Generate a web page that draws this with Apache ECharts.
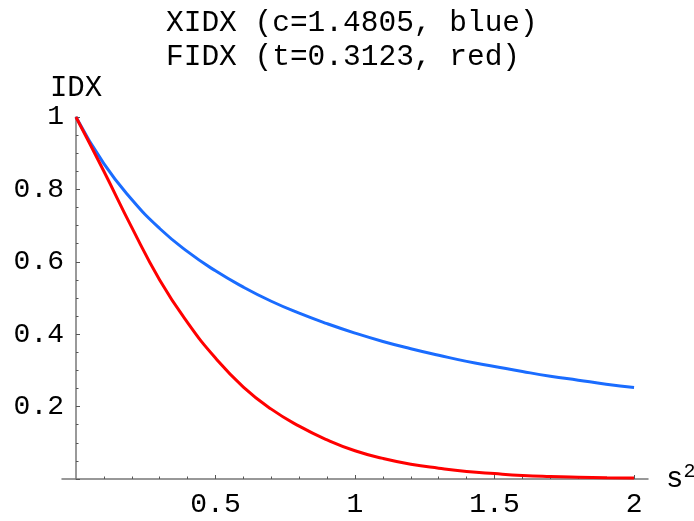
<!DOCTYPE html>
<html>
<head>
<meta charset="utf-8">
<script src="https://cdn.jsdelivr.net/npm/echarts@6/dist/echarts.min.js"></script>
<style>
  html, body { margin: 0; padding: 0; background: #fff; }
  #chart { width: 694px; height: 521px; }
</style>
</head>
<body>
<div id="chart"></div>
<script>
// s^2 sample points
var s2 = [0, 0.1, 0.2, 0.3, 0.4, 0.5, 0.6, 0.7, 0.8, 0.9, 1.0,
  1.1, 1.2, 1.3, 1.4, 1.5, 1.6, 1.7, 1.8, 1.9, 2.0]
// XIDX (blue)
var xidx = [1, 0.871, 0.772, 0.692, 0.628, 0.575, 0.530, 0.491, 0.458, 0.429, 0.403,
  0.380, 0.360, 0.342, 0.325, 0.311, 0.297, 0.284, 0.273, 0.262, 0.253]
// FIDX (red)
var fidx = [1, 0.850, 0.695, 0.550, 0.432, 0.334, 0.254, 0.193, 0.146, 0.108, 0.078,
  0.057, 0.041, 0.030, 0.021, 0.015, 0.010, 0.007, 0.005, 0.0035, 0.0025]

var xLabels = [0.5, 1, 1.5, 2]
var xMinor = [0.1, 0.2, 0.3, 0.4, 0.6, 0.7, 0.8, 0.9, 1.1, 1.2, 1.3, 1.4, 1.6, 1.7, 1.8, 1.9]

var font = 'Liberation Mono'

function pairs(xs, ys) {
  return xs.map(function (x, i) { return [x, ys[i]] })
}

var chart = echarts.init(document.getElementById('chart'))

chart.setOption({
  animation: false,
  title: {
    text: 'XIDX (c=1.4805, blue)\nFIDX (t=0.3123, red)',
    left: 161,
    top: 1,
    textStyle: {
      fontFamily: font,
      fontSize: 29.5,
      fontWeight: 'normal',
      lineHeight: 34,
      color: '#000'
    }
  },
  grid: {
    left: 62,
    right: 46,
    top: 117,
    bottom: 42,
    outerBoundsMode: 'none'
  },
  xAxis: [
    {
      type: 'value',
      min: -0.05,
      max: 2.05,
      axisLine: { onZero: false, lineStyle: { color: '#777', width: 1.5 } },
      axisTick: {
        inside: true,
        length: 4,
        customValues: xLabels,
        lineStyle: { color: '#555' }
      },
      axisLabel: {
        customValues: xLabels,
        margin: 12,
        fontFamily: font,
        fontSize: 28,
        color: '#000'
      },
      splitLine: { show: false },
      name: '{s|s}{sup|2}',
      nameLocation: 'end',
      nameGap: 18,
      nameTextStyle: {
        rich: {
          s: { fontFamily: font, fontSize: 29, color: '#000' },
          sup: { fontFamily: font, fontSize: 20, color: '#000', verticalAlign: 'top', padding: [0, 0, 14, 0] }
        }
      }
    },
    {
      // minor ticks
      type: 'value',
      min: -0.05,
      max: 2.05,
      position: 'bottom',
      axisLine: { show: false },
      axisTick: {
        inside: true,
        length: 2.5,
        customValues: xMinor,
        lineStyle: { color: '#555' }
      },
      axisLabel: { show: false },
      splitLine: { show: false }
    }
  ],
  yAxis: {
    type: 'value',
    min: 0,
    max: 1,
    interval: 0.2,
    offset: -14,
    axisLine: { show: true, onZero: false, lineStyle: { color: '#777', width: 1.5 } },
    axisTick: { inside: true, length: 4, lineStyle: { color: '#555' } },
    minorTick: { show: true, splitNumber: 4, length: 2.5, lineStyle: { color: '#555' } },
    axisLabel: {
      showMinLabel: false,
      margin: 12,
      fontFamily: font,
      fontSize: 28,
      color: '#000'
    },
    splitLine: { show: false },
    name: 'IDX',
    nameLocation: 'end',
    nameGap: 12,
    nameTextStyle: { fontFamily: font, fontSize: 29, color: '#000' }
  },
  series: [
    {
      name: 'XIDX',
      type: 'line',
      smooth: true,
      showSymbol: false,
      data: pairs(s2, xidx),
      lineStyle: { color: '#1a6cff', width: 3 }
    },
    {
      name: 'FIDX',
      type: 'line',
      smooth: true,
      showSymbol: false,
      data: pairs(s2, fidx),
      lineStyle: { color: '#ff0000', width: 3 }
    }
  ]
})
</script>
</body>
</html>
